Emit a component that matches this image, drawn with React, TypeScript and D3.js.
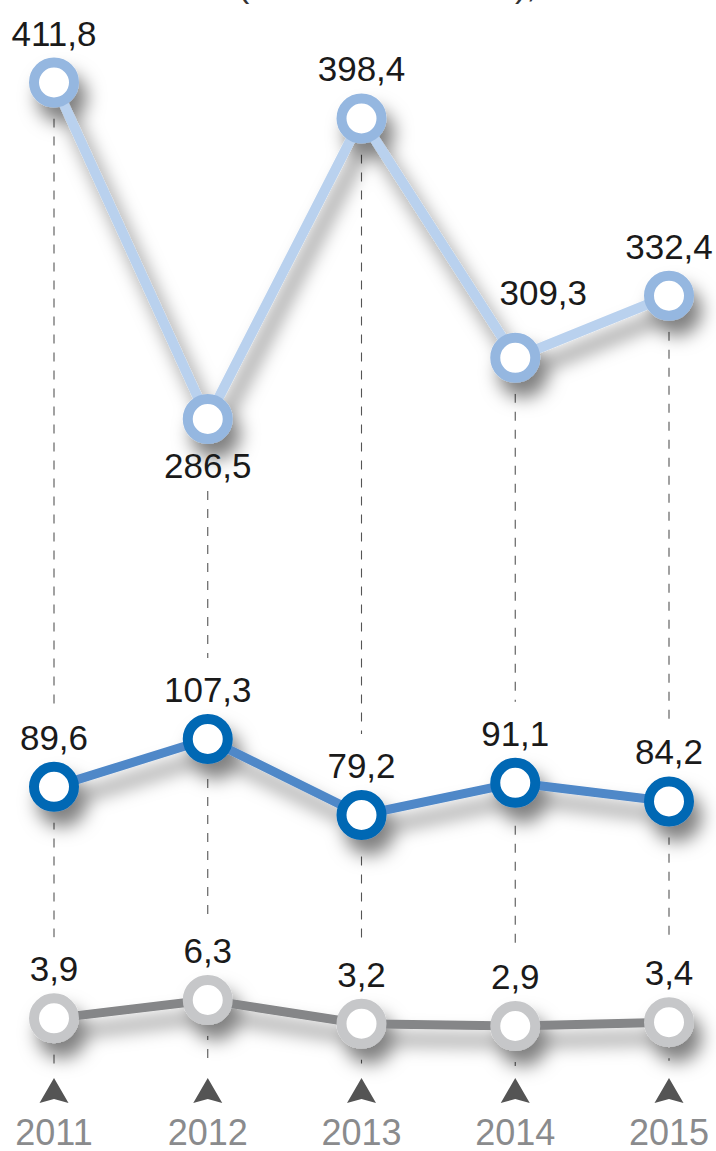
import React from 'react';
import * as d3 from 'd3';

// chart data
const years = ['2011', '2012', '2013', '2014', '2015'];
const topValues = [411.8, 286.5, 398.4, 309.3, 332.4];
const midValues = [89.6, 107.3, 79.2, 91.1, 84.2];
const lowValues = [3.9, 6.3, 3.2, 2.9, 3.4];
// where each value label of the top series sits relative to its point
const topLabelSide = ['above', 'below', 'above', 'aboveRight', 'above'];

const W = 716;
const H = 1151;

const fmt = d3.formatLocale({ decimal: ',', thousands: ' ', grouping: [3], currency: ['', ''] }).format('.1f');

const x = d3.scalePoint<string>().domain(years).range([54, 669]);

// broken axis: each band gets its own scale
const yTop = d3.scaleLinear().domain(d3.extent(topValues) as [number, number]).range([419, 82.5]);
const yMid = d3.scaleLinear().domain(d3.extent(midValues) as [number, number]).range([815, 739]);
const yLow = d3.scaleLinear().domain(d3.extent(lowValues) as [number, number]).range([1026, 1000]);

const series = [
  { id: 'top', values: topValues, y: yTop, ring: '#95b7e0', line: '#b9d1ee', width: 10 },
  { id: 'mid', values: midValues, y: yMid, ring: '#0067b4', line: '#5088c8', width: 9 },
  { id: 'low', values: lowValues, y: yLow, ring: '#c6c7c9', line: '#858688', width: 9 },
];

const dashBottom = 1066;
const font = '"Liberation Sans", Arial, Helvetica, sans-serif';

type Label = { x: number; y: number; text: string };

const labelPos = (s: typeof series[number], i: number): Label => {
  const cx = x(years[i]) as number;
  const cy = s.y(s.values[i]);
  const side = s.id === 'top' ? topLabelSide[i] : 'above';
  if (side === 'below') return { x: cx, y: cy + 59, text: fmt(s.values[i]) };
  if (side === 'aboveRight') return { x: cx + 28, y: cy - 53, text: fmt(s.values[i]) };
  return { x: cx, y: cy - 37, text: fmt(s.values[i]) };
};

const App: React.FC = () => {
  const labels = series.flatMap(s => s.values.map((_, i) => labelPos(s, i)));

  return (
    <svg
      width={W}
      height={H}
      viewBox={`0 0 ${W} ${H}`}
      style={{ position: 'absolute', left: 0, top: 0, background: '#fff' }}
    >
      <defs>
        <filter id="shadow" x="-20%" y="-50%" width="150%" height="300%">
          <feDropShadow dx="8" dy="15" stdDeviation="9" floodColor="#000" floodOpacity="0.5" />
        </filter>
        <mask id="dashMask" maskUnits="userSpaceOnUse" x="0" y="0" width={W} height={H}>
          <rect x="0" y="0" width={W} height={H} fill="#fff" />
          {series.map(s =>
            s.values.map((v, i) => (
              <circle key={s.id + i} cx={x(years[i])} cy={s.y(v)} r={36} fill="#000" />
            ))
          )}
          {labels.map((l, i) => (
            <rect key={i} x={l.x - 50} y={l.y - 44} width={100} height={56} fill="#000" />
          ))}
        </mask>
      </defs>

      {/* cut-off heading at the top */}
      <text x={238} y={-3} fontFamily={font} fontSize={34} fill="#333">(</text>
      <text x={515} y={-3} fontFamily={font} fontSize={34} fill="#333">),</text>

      {/* vertical dashed guides */}
      <g mask="url(#dashMask)">
        {years.map((yr, i) => (
          <line
            key={yr}
            x1={x(yr)}
            x2={x(yr)}
            y1={yTop(topValues[i])}
            y2={dashBottom}
            stroke="#555"
            strokeWidth={1.1}
            strokeDasharray="9,9"
          />
        ))}
      </g>

      {/* series */}
      {series.map(s => {
        const line = d3
          .line<number>()
          .x((_, i) => x(years[i]) as number)
          .y(d => s.y(d));
        return (
          <g key={s.id} filter="url(#shadow)">
            <path d={line(s.values) || ''} fill="none" stroke={s.line} strokeWidth={s.width} strokeLinejoin="round" />
            {s.values.map((v, i) => (
              <circle key={i} cx={x(years[i])} cy={s.y(v)} r={20} fill="#fff" stroke={s.ring} strokeWidth={10} />
            ))}
          </g>
        );
      })}

      {/* value labels */}
      {labels.map((l, i) => (
        <text key={i} x={l.x} y={l.y} textAnchor="middle" fontFamily={font} fontSize={35} fill="#1a1a1a">
          {l.text}
        </text>
      ))}

      {/* year markers */}
      {years.map(yr => {
        const cx = x(yr) as number;
        return (
          <g key={yr}>
            <path
              d={`M${cx},1078 L${cx + 14.5},1103 L${cx},1099 L${cx - 14.5},1103 Z`}
              fill="#545454"
            />
            <text x={cx} y={1145} textAnchor="middle" fontFamily={font} fontSize={36} fill="#8a8b8d">
              {yr}
            </text>
          </g>
        );
      })}
    </svg>
  );
};

export default App;
